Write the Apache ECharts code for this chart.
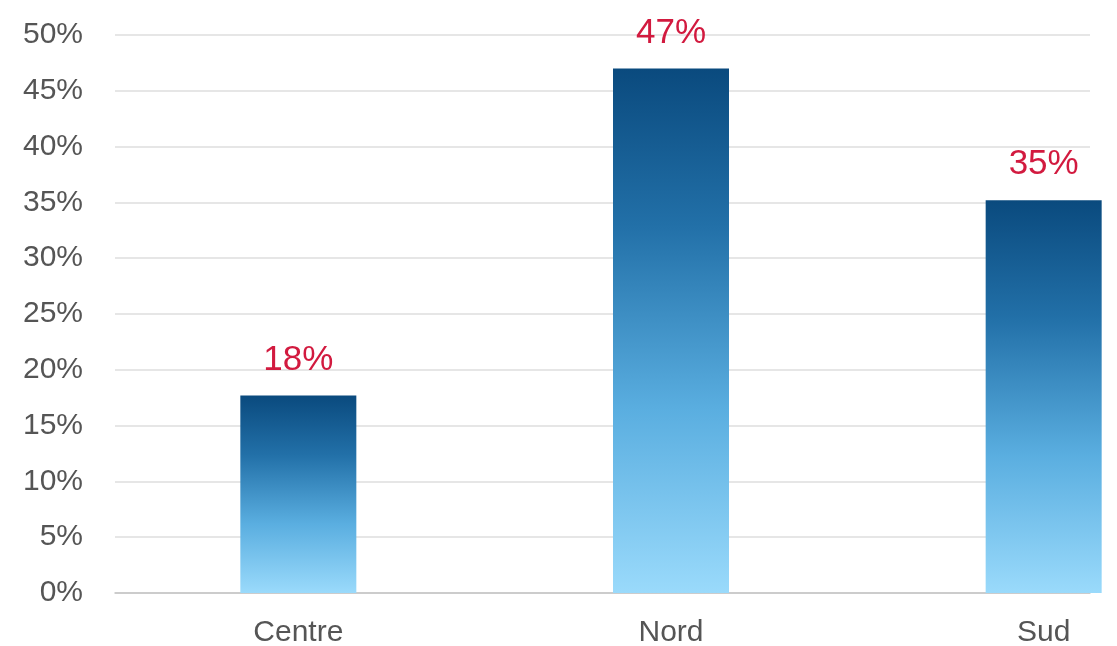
<!DOCTYPE html>
<html>
<head>
<meta charset="utf-8">
<script src="https://cdn.jsdelivr.net/npm/echarts@6/dist/echarts.min.js"></script>
<style>html,body{margin:0;padding:0;background:#fff;}#c{width:1117px;height:646px;}</style>
</head>
<body>
<div id="c"></div>
<script>
const categories = ['Centre', 'Nord', 'Sud'];
const values = [17.7, 47, 35.2];
const yMin = 0, yMax = 50, yStep = 5;

const chart = echarts.init(document.getElementById('c'), null, {renderer: 'canvas'});
const font = '"Liberation Sans", Arial, sans-serif';
chart.setOption({
  backgroundColor: '#ffffff',
  animation: false,
  grid: [
    {left: 112, right: -113, top: 35, bottom: 53, outerBoundsMode: 'none', containLabel: false},
    {left: 115, right: 27, top: 35, bottom: 53, outerBoundsMode: 'none', containLabel: false}
  ],
  xAxis: [
    {
      type: 'category', gridIndex: 0, data: categories,
      axisLine: {show: false}, axisTick: {show: false},
      axisLabel: {color: '#555', fontSize: 30, fontFamily: font, margin: 25}
    },
    {
      type: 'value', gridIndex: 1, min: 0, max: 1,
      axisLine: {show: true, lineStyle: {color: '#c4c4c4', width: 1.5}},
      axisTick: {show: false}, axisLabel: {show: false}, splitLine: {show: false}
    }
  ],
  yAxis: [
    {
      type: 'value', gridIndex: 0, min: yMin, max: yMax, interval: yStep,
      axisLabel: {show: false}, axisLine: {show: false}, axisTick: {show: false},
      splitLine: {show: false}
    },
    {
      type: 'value', gridIndex: 1, min: yMin, max: yMax, interval: yStep,
      axisLine: {show: false}, axisTick: {show: false},
      axisLabel: {color: '#555', fontSize: 30, fontFamily: font, margin: 32, formatter: '{value}%'},
      splitLine: {show: true, lineStyle: {color: '#dedede', width: 1.5}}
    }
  ],
  series: [{
    type: 'bar', xAxisIndex: 0, yAxisIndex: 0, z: 3,
    data: values,
    barWidth: 116,
    itemStyle: {
      color: new echarts.graphic.LinearGradient(0, 0, 0, 1, [
        {offset: 0, color: '#0a4a7e'},
        {offset: 0.3, color: '#2270a8'},
        {offset: 0.65, color: '#5aaee0'},
        {offset: 1, color: '#9adafb'}
      ])
    },
    label: {
      show: true, position: 'top', distance: 18,
      color: '#d21a3f', fontSize: 35, fontFamily: font,
      formatter: p => Math.round(p.value) + '%'
    }
  }]
});
</script>
</body>
</html>
